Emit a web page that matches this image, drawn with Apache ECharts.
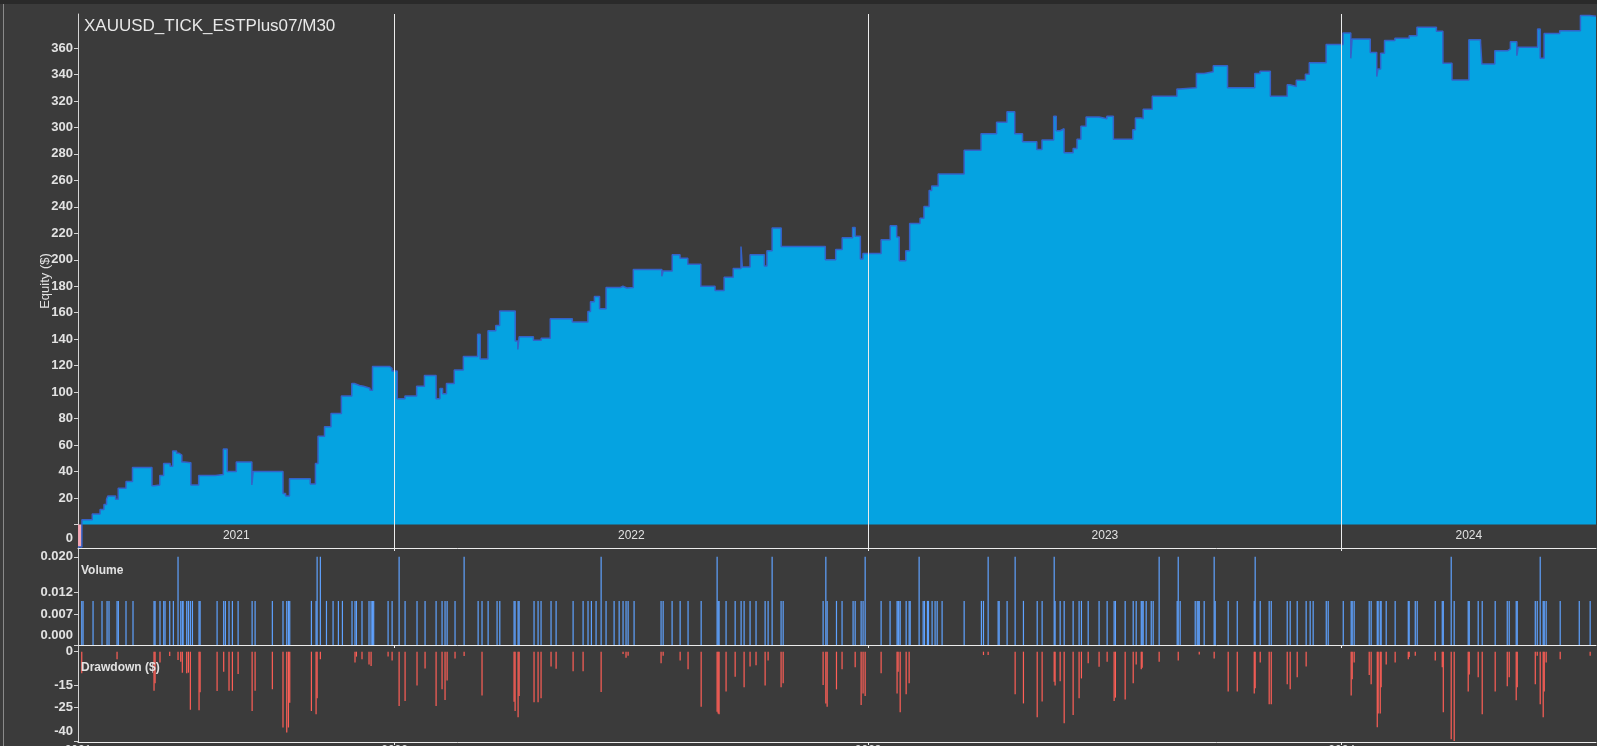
<!DOCTYPE html>
<html><head><meta charset="utf-8">
<script src="https://cdn.jsdelivr.net/npm/echarts@6/dist/echarts.min.js"></script>
<style>html,body{margin:0;padding:0;background:#3b3b3b;overflow:hidden}#c{width:1597px;height:746px}</style>
</head><body><div id="c"></div><script>
const chartTitle = 'XAUUSD_TICK_ESTPlus07/M30';
const startDate = '2021-05-02';
const endDate = '2024-07-15';
const yearBoundaries = ['2022-01-01','2023-01-01','2024-01-01'];
const equityTicks = [0,20,40,60,80,100,120,140,160,180,200,220,240,260,280,300,320,340,360];
const volumeTicks = [0,0.007,0.012,0.02];
const drawdownTicks = [0,-15,-25,-40];

const equityDates = [
'2021-05-02','2021-05-05','2021-05-13','2021-05-19','2021-05-22','2021-05-24','2021-05-25','2021-05-31','2021-06-02','2021-06-08',
'2021-06-13','2021-06-28','2021-06-30','2021-07-04','2021-07-07','2021-07-12','2021-07-14','2021-07-17','2021-07-19','2021-07-21',
'2021-07-23','2021-07-28','2021-08-03','2021-08-16','2021-08-22','2021-08-25','2021-09-01','2021-09-13','2021-09-14','2021-10-07',
'2021-10-09','2021-10-12','2021-10-28','2021-11-01','2021-11-03','2021-11-08','2021-11-13','2021-11-21','2021-11-29','2021-12-01',
'2021-12-05','2021-12-08','2021-12-13','2021-12-15','2021-12-28','2021-12-30',
'2022-01-03','2022-01-09','2022-01-18','2022-01-24','2022-02-02','2022-02-05','2022-02-07','2022-02-10','2022-02-16','2022-02-23',
'2022-03-06','2022-03-08','2022-03-14','2022-03-20','2022-03-23','2022-04-04','2022-04-06','2022-04-07','2022-04-18','2022-04-24',
'2022-05-01','2022-05-18','2022-05-30','2022-06-01','2022-06-04','2022-06-08','2022-06-13','2022-06-24','2022-06-26','2022-06-29',
'2022-07-04','2022-07-26','2022-07-27','2022-08-03','2022-08-09','2022-08-15','2022-08-25','2022-09-05','2022-09-12','2022-09-19',
'2022-09-25','2022-09-26','2022-10-02','2022-10-13','2022-10-15','2022-10-19','2022-10-26','2022-11-29','2022-12-07','2022-12-12',
'2022-12-20','2022-12-22','2022-12-26','2022-12-28',
'2023-01-11','2023-01-18','2023-01-23','2023-01-25','2023-01-30','2023-02-02','2023-02-10','2023-02-13','2023-02-17','2023-02-19',
'2023-02-24','2023-03-16','2023-03-29','2023-04-10','2023-04-18','2023-04-24','2023-04-30','2023-05-11','2023-05-15','2023-05-24',
'2023-05-26','2023-05-29','2023-06-01','2023-06-08','2023-06-11','2023-06-14','2023-06-18','2023-06-28','2023-07-04','2023-07-09',
'2023-07-24','2023-07-26','2023-07-30','2023-08-01','2023-08-08','2023-08-27','2023-08-29','2023-09-11','2023-09-17','2023-09-24',
'2023-10-05','2023-10-26','2023-10-30','2023-11-07','2023-11-20','2023-11-22','2023-11-27','2023-12-04','2023-12-07','2023-12-20',
'2024-01-02','2024-01-08','2024-01-09','2024-01-23','2024-01-28','2024-01-29','2024-01-31','2024-02-03','2024-02-11','2024-02-22',
'2024-02-28','2024-03-14','2024-03-19','2024-03-26','2024-04-08','2024-04-17','2024-04-18','2024-04-28','2024-05-08','2024-05-10',
'2024-05-15','2024-05-16','2024-05-31','2024-06-02','2024-06-05','2024-06-17','2024-07-03','2024-07-10','2024-07-15'
];
const equityValues = [
-17,3.6,8,11.3,15.2,19,21.6,19,27.3,32.4,
43,29.3,29.9,37,46,44,55.6,53.8,52.5,47.3,
46.6,29.9,37,37.8,57,40,47.3,29.9,40,23.4,
21.6,34.5,30.6,46,66.6,73.9,83.9,97,106.5,105,
104.5,103,101.4,119.4,118,116,
95,97,104.5,112.5,95,102.7,98.8,106.5,116.8,127,
143.8,125,146.4,150.3,161.3,138.7,132.3,141.8,139.2,140.8,
155.4,152.9,161,168.3,172.2,163,179.1,180,178.7,179.1,
192.7,187.6,191.5,203.8,201.2,196.6,180,176.8,186.8,193.5,
210,194.5,203.8,195.3,206.9,224.1,210,200,207.7,216.7,
224.4,217.7,200.5,204.8,
215.1,225.7,217.2,199.2,206.9,227.5,231.3,240.3,252.4,255.8,
264.8,282.8,295.2,303.9,311.9,295.2,289.2,283.3,290.5,308.5,
297.5,299,280.8,284.1,291,300.8,307.8,306.5,308.5,291,
298.2,307.2,306.5,313.7,323.5,329.1,329.9,340.7,342,346.6,
329.9,340.7,342.5,323.5,332.2,330.9,335.6,340.2,348.9,362.6,
371.3,352.2,366.8,356.7,338.4,344.2,356,365.6,367.3,369.3,
375.7,372.7,348.5,335.9,366.3,364.3,348,358,359.3,364.8,
354.2,360.5,374.4,352.2,371,373.1,384.5,384,384
];

// trades: days after startDate, lot volume, worst drawdown ($)
const tradeDay = [
2.9,3.9,11.6,18.5,22.4,23.9,30.1,31.1,37,42.4,58.6,59.4,63.2,66.1,67.1,70.7,73.5,77.1,79.2,80.4,
81,83.8,85.1,86.6,88.2,93.3,94.1,107.2,112.3,113.6,116.4,119,123.4,134.2,136.5,149.8,158,160.9,162.2,163.2,
179.9,183.5,184.3,186.8,191.5,196.6,200.7,203.8,211.2,213.5,214.6,218.9,224.3,225.9,226.9,227.9,239,242.1,247.5,252.1,
261.3,267.5,276,280.6,282.9,284.5,290.6,297.6,308.4,311.4,316.1,323,325.1,336.1,336.9,339.2,340,351.5,354.6,356.9,
364.6,368.5,381.6,389.3,393.1,395.7,399.3,403.2,407,413.2,417.1,420.1,422.4,424,428.6,449.4,451,457.9,464.1,470.2,
480.3,492.6,493.4,494.1,499.5,506.5,511.1,513.4,518,522.6,529.6,531.9,535,541.9,543.5,
574.3,576.4,577.4,584.6,588.9,597.4,599,603.6,605.1,606.7,619,625.9,631.3,632.1,632.6,633.7,638.3,640.6,641.4,648.3,
651.4,652.4,654.7,655.5,658.3,660.6,662.2,666,683,696.3,697.9,701.5,709.2,710,716.1,722.3,728.7,739.3,743.1,752.4,
753.1,757,760.1,767,771.6,773.4,778.6,787,793.2,798.6,799.6,
807.1,813.3,815.6,819.5,820.2,821,823.3,827.2,828.7,833.3,847.2,848,849.5,861.1,862.6,863.4,864.2,868,875.7,876.5,
886.5,893.5,906.6,907.3,911.2,918.1,919.7,932,934.3,939.7,946.6,949.7,952,962.1,963.6,975.2,981.3,982.1,983.6,995.2,
996.7,1001.4,1002.1,1003.7,1004.4,1008.3,1015.2,1025.3,1026,1030.7,1032.2,1046.1,1051.5,1052.3,1058.4,1060.7,1071.5,1072.3,1079.2,1082.3,
1092.3,1101.6,1103.1,1108.5,1109.3,1123.2,1124.7,1127,1129.3,1130.1,1131.6,1142.4,1157.1,1165.5
];
const tradeVolume = [
0.01,0.01,0.01,0.01,0.01,0.01,0.01,0.01,0.01,0.01,0.01,0.01,0.01,0.01,0.01,0.01,0.01,0.02,0.01,0.01,
0.01,0.01,0.01,0.01,0.01,0.01,0.01,0.01,0.01,0.01,0.01,0.01,0.01,0.01,0.01,0.01,0.01,0.01,0.01,0.01,
0.01,0.01,0.02,0.02,0.01,0.01,0.01,0.01,0.01,0.01,0.01,0.01,0.01,0.01,0.01,0.01,0.01,0.01,0.02,0.01,
0.01,0.01,0.01,0.01,0.01,0.01,0.01,0.02,0.01,0.01,0.01,0.01,0.01,0.01,0.01,0.01,0.01,0.01,0.01,0.01,
0.01,0.01,0.01,0.01,0.01,0.01,0.01,0.02,0.01,0.01,0.01,0.01,0.01,0.01,0.01,0.01,0.01,0.01,0.01,0.01,
0.01,0.02,0.01,0.01,0.01,0.01,0.01,0.01,0.01,0.01,0.01,0.01,0.02,0.01,0.01,
0.01,0.02,0.01,0.01,0.01,0.01,0.01,0.01,0.01,0.02,0.01,0.01,0.01,0.01,0.01,0.01,0.01,0.01,0.01,0.02,
0.01,0.01,0.01,0.01,0.01,0.01,0.01,0.01,0.01,0.01,0.01,0.02,0.01,0.01,0.01,0.02,0.01,0.01,0.01,0.02,
0.01,0.01,0.01,0.01,0.01,0.01,0.01,0.01,0.01,0.01,0.01,
0.01,0.01,0.01,0.01,0.01,0.01,0.01,0.01,0.01,0.02,0.01,0.02,0.01,0.01,0.01,0.01,0.01,0.01,0.02,0.01,
0.01,0.01,0.01,0.02,0.01,0.01,0.01,0.01,0.01,0.01,0.01,0.01,0.01,0.01,0.01,0.01,0.01,0.01,0.01,0.01,
0.01,0.01,0.01,0.01,0.01,0.01,0.01,0.01,0.01,0.01,0.01,0.01,0.01,0.01,0.02,0.01,0.01,0.01,0.01,0.01,
0.01,0.01,0.01,0.01,0.01,0.01,0.01,0.02,0.01,0.01,0.01,0.01,0.01,0.01
];
const tradeDrawdown = [
-9.7,0,0,0,0,0,-3.4,0,0,0,-17.5,-14.2,-4.9,0,0,-1.9,0,-3.7,-4.5,-9.4,
0,-9.7,-9.4,-26,0,-26.3,-18.2,-17.6,-9,0,-17.5,-17.5,-10,-26.6,-17.5,-16.9,-34,-36.2,-34,-22.9,
-26.6,-28.1,-20.9,-3.4,0,0,0,0,0,-4.9,-2.2,-3.4,-5.7,-6.4,0,0,-2.2,-3.9,-24.4,-22.1,
-15.2,-7.5,-24.4,-16.9,-21.7,-12.9,-3,-1.9,0,-19.6,0,0,0,-22.4,-26.6,-29.4,-19.9,-22.7,-22.7,-20.9,
-6.6,-7.6,-8.8,-8.8,0,0,0,-18.1,0,0,0,-1,-2.7,-1.8,0,-5.2,-1.8,0,-3.9,-7.9,
-24.7,-26.9,-27.7,-28.1,-17.8,-11.2,0,-16,-6.6,-6.1,-15.2,-3.9,0,-16,-14.2,
-14.9,-23.2,-24.7,-16.9,-7.9,0,-7,-23.9,-18.7,-19.9,-9.7,0,-18.7,-9,0,-27.2,-19.1,-14.2,0,0,
0,0,0,0,0,0,0,0,0,0,-1.5,-1.5,0,0,0,-19.1,-23.2,-29.4,-22.3,-13.5,
-15.2,-13.3,-32.1,-28.4,-20.9,-12,-5.2,-6.7,-4.5,-22.1,-20.6,
-21.4,-14.2,-5.7,-7.9,-7.2,0,0,0,0,-4.5,0,-3.9,0,0,0,0,-1.3,0,-3,0,
-17.8,-17.8,-18.7,-16.4,-4.8,-23.6,-23.6,-14.6,-16.9,-11.5,-6.6,0,0,0,0,0,-19.6,-12.4,-4.8,-10.5,
-14.6,-33.9,-27.7,-27.7,-16,-5.7,-4.8,-3.4,-2.4,-1.8,0,-3.9,-7,-27.2,-39.3,-40,-17.8,-10.2,-11.5,-28.1,
-17.8,-15.5,-11.5,-21.8,-16,-14.6,-1.8,-23.6,-29.4,-17.8,-4.8,-3.4,0,-1.8
];

const FONT = "'Liberation Sans', Arial, sans-serif";
const DAY = 86400000;
const toTime = s => { const p = s.split('-').map(Number); return Date.UTC(p[0], p[1] - 1, p[2]); };
const tStart = toTime(startDate), tEnd = toTime(endDate);
const boundaryTimes = yearBoundaries.map(toTime);
const yearMids = [];
const edges = [tStart].concat(boundaryTimes, [tEnd]);
for (let i = 0; i < edges.length - 1; i++) yearMids.push((edges[i] + edges[i + 1]) / 2);

const eqData = equityDates.map((d, i) => [toTime(d), equityValues[i]]);
const eqPos = equityDates.map((d, i) => [toTime(d), Math.max(equityValues[i], 0)]);
const eqNeg = equityDates.map((d, i) => [toTime(d), Math.min(equityValues[i], 0)]);
const volData = tradeDay.map((d, i) => [tStart + d * DAY, tradeVolume[i]]);
const ddData = [];
tradeDay.forEach((d, i) => { if (tradeDrawdown[i] < 0) ddData.push([tStart + d * DAY, tradeDrawdown[i]]); });

const yearFmt = v => String(new Date(v).getUTCFullYear());
const axisCol = '#d4d4d4';
const lblCol = '#e2e2e2';
const lineCol = '#ececec';

function xAx(idx, labelCfg) {
  return {
    type: 'value', gridIndex: idx, min: tStart, max: tEnd,
    axisLine: { show: true, onZero: false, lineStyle: { color: lineCol, width: 1 } },
    axisTick: { show: true, customValues: boundaryTimes, length: 3, lineStyle: { color: lineCol } },
    splitLine: { show: false },
    axisLabel: labelCfg
  };
}
function yLbl(extra) {
  return Object.assign({ color: lblCol, fontSize: 13, fontWeight: 'bold', fontFamily: FONT, margin: 5, hideOverlap: false }, extra);
}

const chart = echarts.init(document.getElementById('c'), null, { renderer: 'canvas' });
chart.setOption({
  animation: false,
  backgroundColor: '#3b3b3b',
  graphic: [
    { type: 'rect', shape: { x: 0, y: 0, width: 1597, height: 4 }, style: { fill: '#2a2a2a' }, silent: true },
    { type: 'line', shape: { x1: 3.5, y1: 4, x2: 3.5, y2: 746 }, style: { stroke: '#8a8a8a', lineWidth: 1 }, silent: true }
  ],
  title: [
    { text: chartTitle, left: 84, top: 18, padding: 0, textStyle: { color: '#e8e8e8', fontSize: 17, fontWeight: 'normal', fontFamily: FONT } },
    { text: 'Volume', left: 81, top: 565, padding: 0, textStyle: { color: lblCol, fontSize: 12, fontWeight: 'bold', fontFamily: FONT } },
    { text: 'Drawdown ($)', left: 81, top: 662, padding: 0, textStyle: { color: lblCol, fontSize: 12, fontWeight: 'bold', fontFamily: FONT } }
  ],
  grid: [
    { left: 78, top: 14, width: 1518, height: 534, containLabel: false, outerBoundsMode: 'none' },
    { left: 78, top: 548, width: 1518, height: 97, containLabel: false, outerBoundsMode: 'none' },
    { left: 78, top: 645, width: 1518, height: 97, containLabel: false, outerBoundsMode: 'none' }
  ],
  xAxis: [
    xAx(0, { show: true, inside: true, margin: 6, customValues: yearMids, formatter: yearFmt, color: lblCol, fontSize: 12, fontFamily: FONT, hideOverlap: false }),
    xAx(1, { show: false }),
    xAx(2, { show: true, margin: 3, customValues: [tStart].concat(boundaryTimes), formatter: yearFmt, color: lblCol, fontSize: 12, fontFamily: FONT, hideOverlap: false })
  ],
  yAxis: [
    {
      type: 'value', gridIndex: 0, min: -17.76, max: 385.7,
      axisLine: { show: true, lineStyle: { color: axisCol } },
      axisTick: { show: true, customValues: equityTicks, length: 4, lineStyle: { color: axisCol } },
      splitLine: { show: false },
      axisLabel: yLbl({ customValues: equityTicks, formatter: v => v === 0 ? '{z|0}' : String(v),
        rich: { z: { padding: [27, 0, 0, 0], color: lblCol, fontSize: 13, fontWeight: 'bold', fontFamily: FONT } } }),
      name: 'Equity ($)', nameLocation: 'middle', nameGap: 26, nameMoveOverlap: false,
      nameTextStyle: { color: lblCol, fontSize: 13, fontFamily: FONT }
    },
    {
      type: 'value', gridIndex: 1, min: 0, max: 0.022,
      axisLine: { show: true, lineStyle: { color: axisCol } },
      axisTick: { show: true, customValues: volumeTicks, length: 4, lineStyle: { color: axisCol } },
      splitLine: { show: false },
      axisLabel: yLbl({ customValues: volumeTicks, formatter: v => v === 0 ? '{z|0.000}' : v.toFixed(3),
        rich: { z: { padding: [0, 0, 20, 0], color: lblCol, fontSize: 13, fontWeight: 'bold', fontFamily: FONT } } })
    },
    {
      type: 'value', gridIndex: 2, min: -40.5, max: 3,
      axisLine: { show: true, lineStyle: { color: axisCol } },
      axisTick: { show: true, customValues: drawdownTicks, length: 4, lineStyle: { color: axisCol } },
      splitLine: { show: false },
      axisLabel: yLbl({ customValues: drawdownTicks, formatter: v => v === -40 ? '{z|-40}' : String(v),
        rich: { z: { padding: [0, 0, 18, 0], color: lblCol, fontSize: 13, fontWeight: 'bold', fontFamily: FONT } } })
    }
  ],
  series: [
    {
      name: 'EquityArea', type: 'line', xAxisIndex: 0, yAxisIndex: 0, step: 'end', data: eqPos,
      symbol: 'none', lineStyle: { width: 0 }, areaStyle: { color: '#05a3e1', opacity: 1 }, z: 2, silent: true
    },
    {
      name: 'EquityNeg', type: 'line', xAxisIndex: 0, yAxisIndex: 0, step: 'end', data: eqNeg,
      symbol: 'none', lineStyle: { width: 0 }, areaStyle: { color: '#f4a6b4', opacity: 1 }, z: 3, silent: true
    },
    {
      name: 'Equity', type: 'line', xAxisIndex: 0, yAxisIndex: 0, step: 'end', data: eqData,
      symbol: 'none', lineStyle: { color: '#3562c8', width: 1.5 }, z: 4,
      markLine: {
        silent: true, symbol: ['none', 'none'], label: { show: false },
        lineStyle: { color: lineCol, width: 1, type: 'solid' },
        data: boundaryTimes.map(t => ({ xAxis: t }))
      }
    },
    {
      name: 'Volume', type: 'bar', xAxisIndex: 1, yAxisIndex: 1, data: volData,
      barWidth: 1.2, itemStyle: { color: '#5fa2ff' }, silent: true
    },
    {
      name: 'Drawdown', type: 'bar', xAxisIndex: 2, yAxisIndex: 2, data: ddData,
      barWidth: 1.2, itemStyle: { color: '#ff5f57' }, silent: true
    }
  ]
});
</script></body></html>
